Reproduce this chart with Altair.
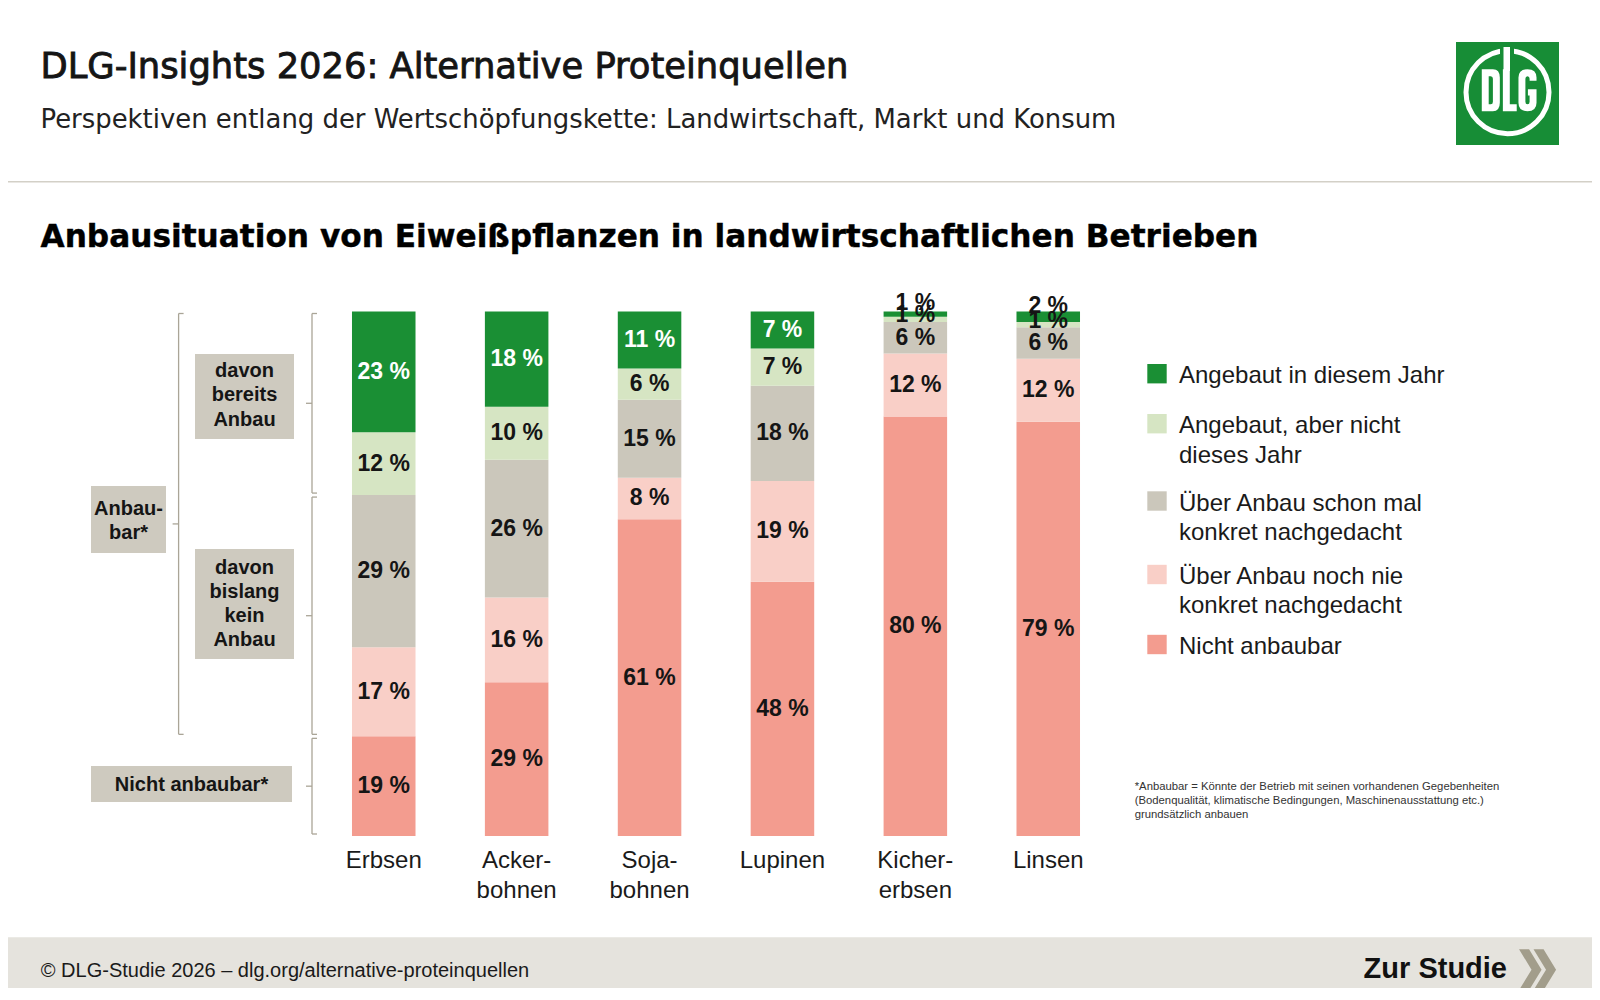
import altair as alt
import pandas as pd

# ---------------- data ----------------
crops = ["Erbsen", "Ackerbohnen", "Sojabohnen", "Lupinen", "Kichererbsen", "Linsen"]
crop_labels = ["Erbsen", "Acker-\nbohnen", "Soja-\nbohnen", "Lupinen", "Kicher-\nerbsen", "Linsen"]

categories = [
    "Angebaut in diesem Jahr",
    "Angebaut, aber nicht dieses Jahr",
    "Über Anbau schon mal konkret nachgedacht",
    "Über Anbau noch nie konkret nachgedacht",
    "Nicht anbaubar",
]
legend_labels = [
    "Angebaut in diesem Jahr",
    "Angebaut, aber nicht\ndieses Jahr",
    "Über Anbau schon mal\nkonkret nachgedacht",
    "Über Anbau noch nie\nkonkret nachgedacht",
    "Nicht anbaubar",
]
colors = ["#1a8f34", "#d6e5c3", "#cbc7bb", "#f9cfc7", "#f39c8f"]

angebaut_dieses_jahr = [23, 18, 11, 7, 1, 2]
angebaut_nicht_dieses_jahr = [12, 10, 6, 7, 1, 1]
schon_nachgedacht = [29, 26, 15, 18, 6, 6]
nie_nachgedacht = [17, 16, 8, 19, 12, 12]
nicht_anbaubar = [19, 29, 61, 48, 80, 79]

series = [angebaut_dieses_jahr, angebaut_nicht_dieses_jahr, schon_nachgedacht,
          nie_nachgedacht, nicht_anbaubar]

rows = []
for i, crop in enumerate(crops):
    vals = [s[i] for s in series]
    total = sum(vals)
    acc = 0
    for k in range(len(categories) - 1, -1, -1):  # stack bottom -> top
        v = vals[k]
        rows.append(dict(crop=crop, cat=categories[k], value=v,
                         y0=acc / total, y1=(acc + v) / total,
                         mid=(acc + v / 2) / total, label=f"{v} %"))
        acc += v
df = pd.DataFrame(rows)

# ---------------- layout ----------------
CW, CH = 1584, 980          # whole canvas
PX0, PX1 = 309.3, 1106.7    # plot area (band range) in canvas px
PY0, PY1 = 303.5, 828.0
PW, PH = PX1 - PX0, PY1 - PY0


def px(x):  # canvas -> plot coords
    return x - PX0


def py(y):
    return y - PY0


SANS = "Liberation Sans, Arial, Helvetica, sans-serif"
HEAD = "DejaVu Sans, Verdana, sans-serif"
INK = "#151515"
BRACKET = "#aaa597"
BOX = "#cecabf"
LOGO = "#178d36"

x_scale = alt.Scale(domain=crops, paddingInner=0.522, paddingOuter=0.261)
y_scale = alt.Scale(domain=[0, 1])
color_scale = alt.Scale(domain=categories, range=colors)

X = alt.X("crop:N", scale=x_scale, sort=crops, axis=None)


def one(text=""):
    return alt.Chart(pd.DataFrame({"t": [text]}))


def vx(x):
    return alt.value(px(x))


def vy(y):
    return alt.value(py(y))


layers = []

# background bands
layers.append(one().mark_rect(color="#e5e3dd").encode(
    x=vx(0), x2=vx(CW), y=vy(929.3), y2=vy(CH)))
layers.append(one().mark_rule(color="#d3d0c7", strokeWidth=1.5).encode(
    x=vx(0), x2=vx(CW), y=vy(173.7)))

# header texts
layers.append(one("DLG-Insights 2026: Alternative Proteinquellen").mark_text(
    font=HEAD, fontSize=35.3, fontWeight="normal", color=INK, stroke=INK, strokeWidth=0.9,
    align="left", baseline="alphabetic").encode(
    x=vx(32.5), y=vy(69.8), text="t:N"))
layers.append(one("Perspektiven entlang der Wertschöpfungskette: Landwirtschaft, Markt und Konsum").mark_text(
    font=HEAD, fontSize=25.9, fontWeight="normal", color="#222222", align="left", baseline="alphabetic").encode(
    x=vx(32.5), y=vy(119.5), text="t:N"))
layers.append(one("Anbausituation von Eiweißpflanzen in landwirtschaftlichen Betrieben").mark_text(
    font=HEAD, fontSize=31.2, fontWeight="bold", color="#000000", stroke="#000000", strokeWidth=0.4,
    align="left", baseline="alphabetic").encode(
    x=vx(32.5), y=vy(238.7), text="t:N"))

# logo (square, ring, D-L-G letter shapes)
layers.append(one().mark_rect(color=LOGO).encode(
    x=vx(1448), x2=vx(1551), y=vy(34), y2=vy(137)))
layers.append(one().mark_point(shape="circle", filled=False, stroke="white", strokeWidth=5,
                               size=6889, opacity=1).encode(x=vx(1499.5), y=vy(84.2)))
layers.append(one().mark_rect(color=LOGO).encode(
    x=vx(1492), x2=vx(1506), y=vy(36), y2=vy(48)))
layers.append(one().mark_rect(color="white").encode(
    x=vx(1495.5), x2=vx(1502), y=vy(39), y2=vy(63)))
D_PATH = ("M-0.43,-1L0.1,-1Q0.43,-1 0.43,-0.6L0.43,0.6Q0.43,1 0.1,1L-0.43,1Z"
          "M-0.1,-0.67L-0.1,0.67L0.0,0.67Q0.1,0.67 0.1,0.55L0.1,-0.55Q0.1,-0.67 0.0,-0.67Z")
L_PATH = "M-0.33,-1L0.0,-1L0.0,0.67L0.33,0.67L0.33,1L-0.33,1Z"
G_PATH = ("M0.43,-0.45L0.43,-0.6Q0.43,-1 0,-1Q-0.43,-1 -0.43,-0.6L-0.43,0.6Q-0.43,1 0,1"
          "Q0.43,1 0.43,0.6L0.43,-0.05L0.02,-0.05L0.02,0.25L0.1,0.25L0.1,0.55Q0.1,0.67 0,0.67"
          "Q-0.1,0.67 -0.1,0.55L-0.1,-0.55Q-0.1,-0.67 0,-0.67Q0.1,-0.67 0.1,-0.55L0.1,-0.45Z")
for path, cx in [(D_PATH, 1482.8), (L_PATH, 1501.8), (G_PATH, 1519.5)]:
    layers.append(one().mark_point(shape=path, filled=True, fill="white", strokeWidth=0,
                                   size=1764, opacity=1).encode(x=vx(cx), y=vy(82.2)))

# bars
layers.append(alt.Chart(df).mark_bar().encode(
    x=X,
    y=alt.Y("y0:Q", scale=y_scale, axis=None),
    y2="y1:Q",
    color=alt.Color("cat:N", scale=color_scale, legend=None),
))

# bar labels
small_top = "datum.value < 5 && datum.cat == 'Angebaut in diesem Jahr'"
small_second = "datum.value < 5 && datum.cat == 'Angebaut, aber nicht dieses Jahr'"
label_color = alt.condition("datum.cat == 'Angebaut in diesem Jahr' && datum.value >= 5",
                            alt.value("white"), alt.value(INK))
layers.append(alt.Chart(df).transform_filter(f"!({small_top}) && !({small_second})").mark_text(
    font=SANS, fontSize=23, fontWeight="bold", baseline="middle", align="center").encode(
    x=X, y=alt.Y("mid:Q", scale=y_scale, axis=None), text="label:N", color=label_color))
layers.append(alt.Chart(df).transform_filter(small_top).mark_text(
    font=SANS, fontSize=23, fontWeight="bold", baseline="middle", align="center", dy=-11, color=INK).encode(
    x=X, y=alt.Y("mid:Q", scale=y_scale, axis=None), text="label:N"))
layers.append(alt.Chart(df).transform_filter(small_second).mark_text(
    font=SANS, fontSize=23, fontWeight="bold", baseline="middle", align="center", dy=-4, color=INK).encode(
    x=X, y=alt.Y("mid:Q", scale=y_scale, axis=None), text="label:N"))

# category labels
cat_df = pd.DataFrame({"crop": crops, "label": crop_labels})
layers.append(alt.Chart(cat_df).mark_text(
    font=SANS, fontSize=24, color="#1a1a1a", align="center", baseline="alphabetic",
    lineBreak="\n", lineHeight=30).encode(x=X, y=vy(860.3), text="label:N"))

# brackets derived from the Erbsen bar
erb = df[df.crop == "Erbsen"].set_index("cat")
b_nicht = float(erb.loc["Nicht anbaubar", "y1"])
b_kein = float(erb.loc["Über Anbau schon mal konkret nachgedacht", "y1"])
right_df = pd.DataFrame({"top": [1.0, b_kein, b_nicht], "bot": [b_kein, b_nicht, 0.0]})
right_df["mid"] = (right_df.top + right_df.bot) / 2
left_df = pd.DataFrame({"top": [1.0], "bot": [b_nicht]})
left_df["mid"] = (left_df.top + left_df.bot) / 2


def bracket(data, bx, stub=5, tick=6):
    def Y(f):
        return alt.Y(f"{f}:Q", scale=y_scale, axis=None)
    base = alt.Chart(data)
    return [
        base.mark_rule(color=BRACKET, strokeWidth=1.3, yOffset=2, y2Offset=-2).encode(
            x=vx(bx), y=Y("top"), y2="bot:Q"),
        base.mark_rule(color=BRACKET, strokeWidth=1.3, yOffset=2).encode(
            x=vx(bx), x2=vx(bx + stub), y=Y("top")),
        base.mark_rule(color=BRACKET, strokeWidth=1.3, yOffset=-2).encode(
            x=vx(bx), x2=vx(bx + stub), y=Y("bot")),
        base.mark_rule(color=BRACKET, strokeWidth=1.3).encode(
            x=vx(bx - tick), x2=vx(bx), y=Y("mid")),
    ]


layers += bracket(right_df, 304)
layers += bracket(left_df, 170.6)


# annotation boxes
def box(x0, x1, y0, y1, text, first_baseline, lh=24.2):
    return [
        one().mark_rect(color=BOX).encode(x=vx(x0), x2=vx(x1), y=vy(y0), y2=vy(y1)),
        one(text).mark_text(font=SANS, fontSize=20, fontWeight="bold", color=INK, align="center",
                            baseline="alphabetic", lineBreak="\n", lineHeight=lh).encode(
            x=vx((x0 + x1) / 2), y=vy(first_baseline), text="t:N"),
    ]


layers += box(187, 286, 346, 431, "davon\nbereits\nAnbau", 368.6, 24.5)
layers += box(187, 286, 541, 651, "davon\nbislang\nkein\nAnbau", 566.2, 24)
layers += box(83, 158, 478, 545, "Anbau-\nbar*", 507.2, 24)
layers += box(83, 284, 758, 794, "Nicht anbaubar*", 783.2)

# legend
sq_y = [365.7, 415.7, 493.0, 566.5, 636.5]
for i, cat in enumerate(categories):
    layers.append(alt.Chart(pd.DataFrame({"cat": [cat]})).mark_square(size=376, opacity=1).encode(
        x=vx(1149), y=vy(sq_y[i]),
        color=alt.Color("cat:N", scale=color_scale, legend=None)))
    layers.append(one(legend_labels[i]).mark_text(
        font=SANS, fontSize=24, color="#1a1a1a", align="left", baseline="alphabetic",
        lineBreak="\n", lineHeight=29.3).encode(
        x=vx(1171), y=vy(sq_y[i] + 9.6), text="t:N"))

# footnote
layers.append(one("*Anbaubar = Könnte der Betrieb mit seinen vorhandenen Gegebenheiten\n"
                  "(Bodenqualität, klimatische Bedingungen, Maschinenausstattung etc.)\n"
                  "grundsätzlich anbauen").mark_text(
    font=SANS, fontSize=11.3, color="#333333", align="left", baseline="alphabetic",
    lineBreak="\n", lineHeight=14.3).encode(x=vx(1126.7), y=vy(781.8), text="t:N"))

# footer
layers.append(one("© DLG-Studie 2026 – dlg.org/alternative-proteinquellen").mark_text(
    font=SANS, fontSize=20, color="#1a1a1a", align="left", baseline="middle").encode(
    x=vx(32.8), y=vy(962.5), text="t:N"))
layers.append(one("Zur Studie").mark_text(
    font=SANS, fontSize=29, fontWeight="bold", color="#111111", align="right", baseline="alphabetic").encode(
    x=vx(1499), y=vy(970.3), text="t:N"))
CHEVRON = "M-0.55,-1L-0.06,-1L0.55,0L-0.06,1L-0.55,1L0.06,0Z"
for cx in (1522.3, 1536.8):
    layers.append(one().mark_point(shape=CHEVRON, filled=True, fill="#a29d8b", strokeWidth=0,
                                   size=1681, opacity=1).encode(x=vx(cx), y=vy(961.7)))

chart = alt.layer(*layers).properties(
    width=PW, height=PH,
    autosize=alt.AutoSizeParams(type="none"),
    padding={"left": PX0, "top": PY0, "right": CW - PX1, "bottom": CH - PY1},
    background="white",
).configure_view(strokeWidth=0)

chart.save("out.html", embed_options={"renderer": "svg", "actions": False})
